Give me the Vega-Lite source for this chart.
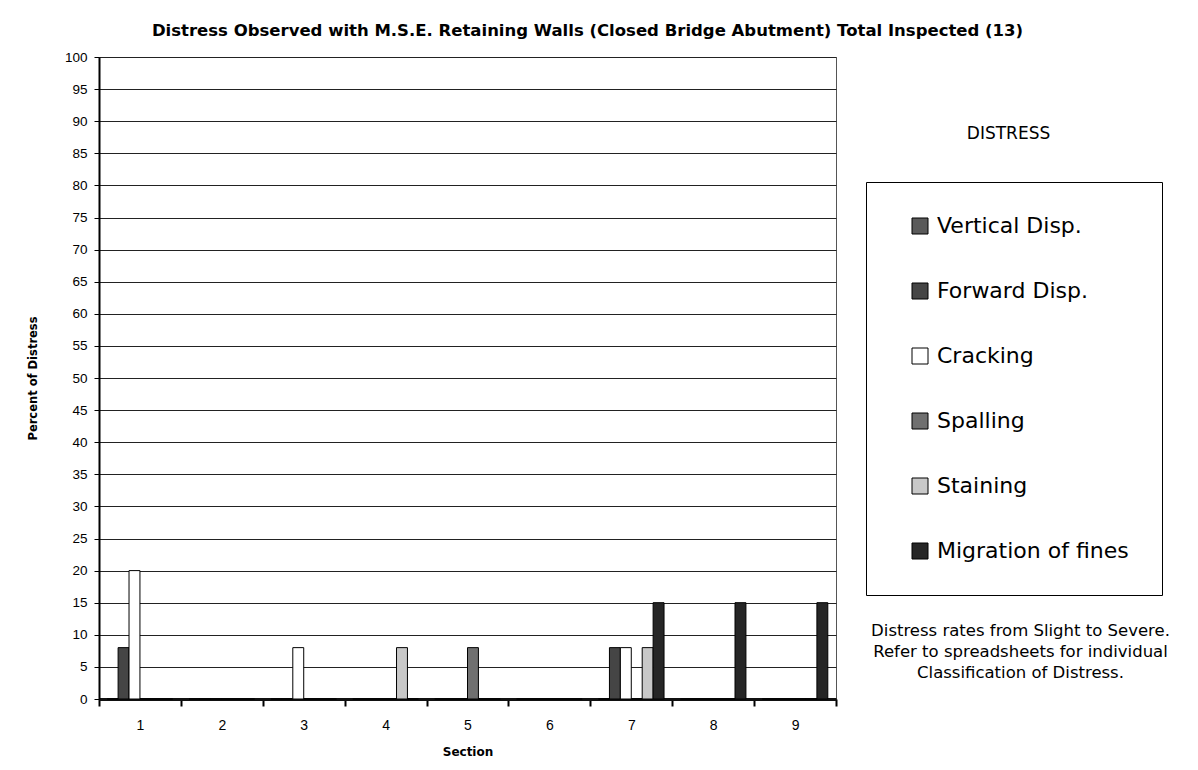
{
  "$schema": "https://vega.github.io/schema/vega-lite/v6.json",
  "width": 737,
  "height": 642,
  "autosize": {"type": "none"},
  "padding": {"left": 99, "top": 57, "right": 362, "bottom": 71},
  "background": "white",
  "config": {"view": {"stroke": "#555", "strokeWidth": 1}},
  "title": {
    "text": "Distress Observed with M.S.E. Retaining Walls (Closed Bridge Abutment) Total Inspected (13)",
    "font": "DejaVu Sans", "fontSize": 16.5, "fontWeight": "bold", "color": "black",
    "anchor": "middle", "dx": 120, "offset": 11
  },
  "data": {"values": [
    {"Section": 1, "Distress": "Vertical Disp.", "Percent": 0},
    {"Section": 1, "Distress": "Forward Disp.", "Percent": 8},
    {"Section": 1, "Distress": "Cracking", "Percent": 20},
    {"Section": 1, "Distress": "Spalling", "Percent": 0},
    {"Section": 1, "Distress": "Staining", "Percent": 0},
    {"Section": 1, "Distress": "Migration of fines", "Percent": 0},
    {"Section": 2, "Distress": "Vertical Disp.", "Percent": 0},
    {"Section": 2, "Distress": "Forward Disp.", "Percent": 0},
    {"Section": 2, "Distress": "Cracking", "Percent": 0},
    {"Section": 2, "Distress": "Spalling", "Percent": 0},
    {"Section": 2, "Distress": "Staining", "Percent": 0},
    {"Section": 2, "Distress": "Migration of fines", "Percent": 0},
    {"Section": 3, "Distress": "Vertical Disp.", "Percent": 0},
    {"Section": 3, "Distress": "Forward Disp.", "Percent": 0},
    {"Section": 3, "Distress": "Cracking", "Percent": 8},
    {"Section": 3, "Distress": "Spalling", "Percent": 0},
    {"Section": 3, "Distress": "Staining", "Percent": 0},
    {"Section": 3, "Distress": "Migration of fines", "Percent": 0},
    {"Section": 4, "Distress": "Vertical Disp.", "Percent": 0},
    {"Section": 4, "Distress": "Forward Disp.", "Percent": 0},
    {"Section": 4, "Distress": "Cracking", "Percent": 0},
    {"Section": 4, "Distress": "Spalling", "Percent": 0},
    {"Section": 4, "Distress": "Staining", "Percent": 8},
    {"Section": 4, "Distress": "Migration of fines", "Percent": 0},
    {"Section": 5, "Distress": "Vertical Disp.", "Percent": 0},
    {"Section": 5, "Distress": "Forward Disp.", "Percent": 0},
    {"Section": 5, "Distress": "Cracking", "Percent": 0},
    {"Section": 5, "Distress": "Spalling", "Percent": 8},
    {"Section": 5, "Distress": "Staining", "Percent": 0},
    {"Section": 5, "Distress": "Migration of fines", "Percent": 0},
    {"Section": 6, "Distress": "Vertical Disp.", "Percent": 0},
    {"Section": 6, "Distress": "Forward Disp.", "Percent": 0},
    {"Section": 6, "Distress": "Cracking", "Percent": 0},
    {"Section": 6, "Distress": "Spalling", "Percent": 0},
    {"Section": 6, "Distress": "Staining", "Percent": 0},
    {"Section": 6, "Distress": "Migration of fines", "Percent": 0},
    {"Section": 7, "Distress": "Vertical Disp.", "Percent": 0},
    {"Section": 7, "Distress": "Forward Disp.", "Percent": 8},
    {"Section": 7, "Distress": "Cracking", "Percent": 8},
    {"Section": 7, "Distress": "Spalling", "Percent": 0},
    {"Section": 7, "Distress": "Staining", "Percent": 8},
    {"Section": 7, "Distress": "Migration of fines", "Percent": 15},
    {"Section": 8, "Distress": "Vertical Disp.", "Percent": 0},
    {"Section": 8, "Distress": "Forward Disp.", "Percent": 0},
    {"Section": 8, "Distress": "Cracking", "Percent": 0},
    {"Section": 8, "Distress": "Spalling", "Percent": 0},
    {"Section": 8, "Distress": "Staining", "Percent": 0},
    {"Section": 8, "Distress": "Migration of fines", "Percent": 15},
    {"Section": 9, "Distress": "Vertical Disp.", "Percent": 0},
    {"Section": 9, "Distress": "Forward Disp.", "Percent": 0},
    {"Section": 9, "Distress": "Cracking", "Percent": 0},
    {"Section": 9, "Distress": "Spalling", "Percent": 0},
    {"Section": 9, "Distress": "Staining", "Percent": 0},
    {"Section": 9, "Distress": "Migration of fines", "Percent": 15}
  ]},
  "layer": [
    {
      "mark": {"type": "bar", "stroke": "black", "strokeWidth": 1},
      "encoding": {
        "x": {
          "field": "Section", "type": "ordinal",
          "scale": {"paddingInner": 0, "paddingOuter": 0},
          "axis": {
            "title": "Section", "titleFont": "DejaVu Sans", "titleFontSize": 12, "titleFontWeight": "bold",
            "titleColor": "black", "titlePadding": 14,
            "labelAngle": 0, "labelFont": "Liberation Sans", "labelFontSize": 14, "labelColor": "black",
            "labelPadding": 12, "tickBand": "extent", "tickSize": 7, "tickWidth": 2, "tickColor": "black",
            "domainColor": "#111", "domainWidth": 3, "grid": false
          }
        },
        "xOffset": {
          "field": "Distress", "type": "nominal",
          "sort": ["Vertical Disp.", "Forward Disp.", "Cracking", "Spalling", "Staining", "Migration of fines"],
          "scale": {"paddingInner": 0, "paddingOuter": 0.75}
        },
        "y": {
          "field": "Percent", "type": "quantitative",
          "scale": {"domain": [0, 100], "nice": false},
          "axis": {
            "values": [0, 5, 10, 15, 20, 25, 30, 35, 40, 45, 50, 55, 60, 65, 70, 75, 80, 85, 90, 95, 100],
            "title": "Percent of Distress", "titleFont": "DejaVu Sans", "titleFontSize": 11.5,
            "titleFontWeight": "bold", "titleColor": "black", "titlePadding": 26,
            "labelFont": "Liberation Sans", "labelFontSize": 13.5, "labelColor": "black", "labelPadding": 7,
            "tickSize": 5, "tickColor": "black", "domainColor": "black", "domainWidth": 2,
            "grid": true, "gridColor": "#222", "gridWidth": 1
          }
        },
        "fill": {
          "field": "Distress", "type": "nominal",
          "sort": ["Vertical Disp.", "Forward Disp.", "Cracking", "Spalling", "Staining", "Migration of fines"],
          "scale": {
            "domain": ["Vertical Disp.", "Forward Disp.", "Cracking", "Spalling", "Staining", "Migration of fines"],
            "range": ["#5a5a5a", "#454545", "#ffffff", "#707070", "#c8c8c8", "#262626"]
          },
          "legend": {
            "title": null, "orient": "none", "legendX": 767, "legendY": 125,
            "strokeColor": "black", "fillColor": "white", "padding": 33,
            "symbolType": "square", "symbolSize": 256, "symbolStrokeColor": "black", "symbolStrokeWidth": 1,
            "symbolOffset": 10, "labelFont": "DejaVu Sans", "labelFontSize": 22, "labelColor": "black",
            "labelOffset": 6, "rowPadding": 43, "labelLimit": 400
          }
        }
      }
    },
    {
      "mark": {"type": "bar", "opacity": 0},
      "encoding": {
        "x": {
          "field": "Section", "type": "ordinal",
          "axis": {
            "orient": "top", "title": "DISTRESS", "labels": false, "ticks": false, "domain": false, "grid": false,
            "titleX": 909, "titleY": 76, "titleAlign": "center", "titleBaseline": "middle", "titleAngle": 0,
            "titleFont": "DejaVu Sans", "titleFontSize": 17, "titleFontWeight": "normal", "titleColor": "black"
          }
        },
        "y": {
          "field": "Percent", "type": "quantitative", "stack": null,
          "axis": {
            "orient": "right",
            "title": ["Distress rates from Slight to Severe.", "Refer to spreadsheets for individual", "Classification of Distress."],
            "labels": false, "ticks": false, "domain": false, "grid": false,
            "titleX": 184, "titleY": 573, "titleAngle": 0, "titleAlign": "center", "titleBaseline": "middle",
            "titleLineHeight": 21, "titleFont": "DejaVu Sans", "titleFontSize": 16.5, "titleFontWeight": "normal",
            "titleColor": "black"
          }
        }
      }
    }
  ],
  "resolve": {"axis": {"x": "independent", "y": "independent"}}
}
